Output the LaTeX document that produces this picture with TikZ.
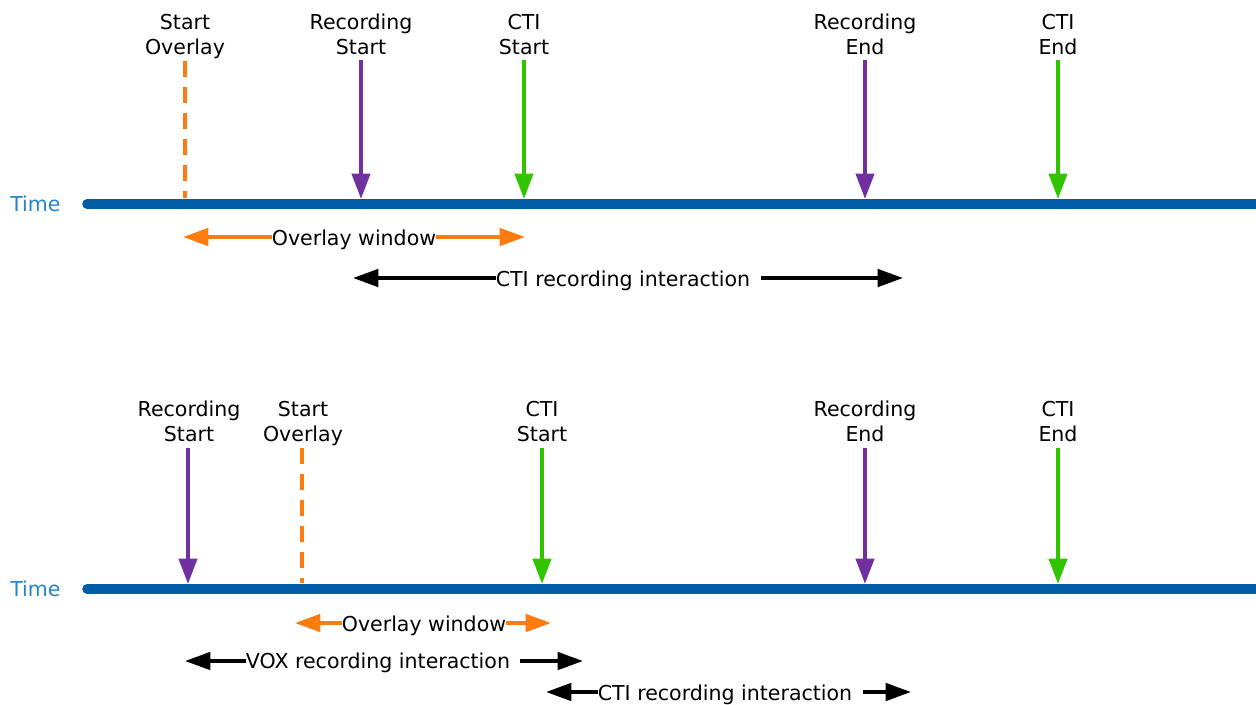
\documentclass[tikz,border=0pt]{standalone}
\usepackage{fontspec}
\setmainfont{DejaVu Sans}
\usetikzlibrary{arrows.meta}
\definecolor{timeblue}{RGB}{0,94,166}
\definecolor{timelabel}{RGB}{38,132,204}
\definecolor{ovorange}{RGB}{252,124,16}
\definecolor{recpurple}{RGB}{112,48,160}
\definecolor{ctigreen}{RGB}{50,196,0}
\begin{document}
\begin{tikzpicture}[x=0.75pt,y=-0.75pt,
  txt/.style={font=\fontsize{15.4}{18.5}\selectfont, inner sep=0pt, anchor=base},
  evlabel/.style={txt, align=center},
  timelbl/.style={txt, anchor=base west, text=timelabel},
  timeline/.style={line width=7.2pt, draw=timeblue, line cap=round},
  vtip/.style={-{Triangle[length=19pt,width=13.5pt]}},
  htip/.style={-{Triangle[length=19pt,width=13pt]}},
  recarrow/.style={vtip, line width=3pt, draw=recpurple, fill=recpurple},
  ctiarrow/.style={vtip, line width=3pt, draw=ctigreen, fill=ctigreen},
  overlaymark/.style={line width=3pt, draw=ovorange, dash pattern=on 12pt off 7.5pt},
  ovarrow/.style={htip, line width=2.8pt, draw=ovorange, fill=ovorange},
  intarrow/.style={htip, line width=2.8pt, draw=black, fill=black}
]
\useasboundingbox (0,0) rectangle (1256,704);

% ---------------- upper timeline: overlay starts before recording
\node[timelbl] (timeA) at (10,211) {Time};
\coordinate (lineAs) at (87,204);
\coordinate (lineAe) at (1262,204);
\draw[timeline] (lineAs) -- (lineAe);

% event labels (anchored on the baseline of their second line)
\node[evlabel] (aOv)   at (185,54) {Start\\Overlay};
\node[evlabel] (aRecS) at (361,54) {Recording\\Start};
\node[evlabel] (aCtiS) at (524,54) {CTI\\Start};
\node[evlabel] (aRecE) at (865,54) {Recording\\End};
\node[evlabel] (aCtiE) at (1058,54) {CTI\\End};

\coordinate (aOvT) at (185,61);   \coordinate (aOvB) at (185,198);
\coordinate (aRecST) at (361,60); \coordinate (aRecSB) at (361,199);
\coordinate (aCtiST) at (524,60); \coordinate (aCtiSB) at (524,199);
\coordinate (aRecET) at (865,60); \coordinate (aRecEB) at (865,199);
\coordinate (aCtiET) at (1058,60);\coordinate (aCtiEB) at (1058,199);

\draw[overlaymark] (aOvT) -- (aOvB);
\draw[recarrow] (aRecST) -- (aRecSB);
\draw[ctiarrow] (aCtiST) -- (aCtiSB);
\draw[recarrow] (aRecET) -- (aRecEB);
\draw[ctiarrow] (aCtiET) -- (aCtiEB);

% overlay window
\node[txt] (aWin) at (354,245) {Overlay window};
\coordinate (aWinL) at (183,237);
\coordinate (aWinR) at (525,237);
\draw[ovarrow] (aWin.west |- aWinL) -- (aWinL);
\draw[ovarrow] (aWin.east |- aWinR) -- (aWinR);

% CTI recording interaction
\node[txt] (aInt) at (623,286) {CTI recording interaction};
\coordinate (aIntL) at (353,278);
\coordinate (aIntR) at (903,278);
\draw[intarrow] (aInt.west |- aIntL) -- (aIntL);
\draw[intarrow] ([xshift=8pt]aInt.east |- aIntR) -- (aIntR);

% ---------------- lower timeline: recording starts before overlay
\node[timelbl] (timeB) at (10,596) {Time};
\coordinate (lineBs) at (87,589);
\coordinate (lineBe) at (1262,589);
\draw[timeline] (lineBs) -- (lineBe);

\node[evlabel] (bRecS) at (189,441) {Recording\\Start};
\node[evlabel] (bOv)   at (303,441) {Start\\Overlay};
\node[evlabel] (bCtiS) at (542,441) {CTI\\Start};
\node[evlabel] (bRecE) at (865,441) {Recording\\End};
\node[evlabel] (bCtiE) at (1058,441) {CTI\\End};

\coordinate (bRecST) at (188,448); \coordinate (bRecSB) at (188,584);
\coordinate (bOvT) at (302,448);   \coordinate (bOvB) at (302,583);
\coordinate (bCtiST) at (542,448); \coordinate (bCtiSB) at (542,584);
\coordinate (bRecET) at (865,448); \coordinate (bRecEB) at (865,584);
\coordinate (bCtiET) at (1058,448);\coordinate (bCtiEB) at (1058,584);

\draw[recarrow] (bRecST) -- (bRecSB);
\draw[overlaymark] (bOvT) -- (bOvB);
\draw[ctiarrow] (bCtiST) -- (bCtiSB);
\draw[recarrow] (bRecET) -- (bRecEB);
\draw[ctiarrow] (bCtiET) -- (bCtiEB);

% overlay window
\node[txt] (bWin) at (424,631) {Overlay window};
\coordinate (bWinL) at (295,623);
\coordinate (bWinR) at (551,623);
\draw[ovarrow] (bWin.west |- bWinL) -- (bWinL);
\draw[ovarrow] (bWin.east |- bWinR) -- (bWinR);

% VOX recording interaction
\node[txt] (bVox) at (378,668) {VOX recording interaction};
\coordinate (bVoxL) at (185,661);
\coordinate (bVoxR) at (583,661);
\draw[intarrow] (bVox.west |- bVoxL) -- (bVoxL);
\draw[intarrow] ([xshift=7pt]bVox.east |- bVoxR) -- (bVoxR);

% CTI recording interaction
\node[txt] (bInt) at (725,700) {CTI recording interaction};
\coordinate (bIntL) at (546,692);
\coordinate (bIntR) at (911,692);
\draw[intarrow] (bInt.west |- bIntL) -- (bIntL);
\draw[intarrow] ([xshift=8pt]bInt.east |- bIntR) -- (bIntR);
\end{tikzpicture}
\end{document}
